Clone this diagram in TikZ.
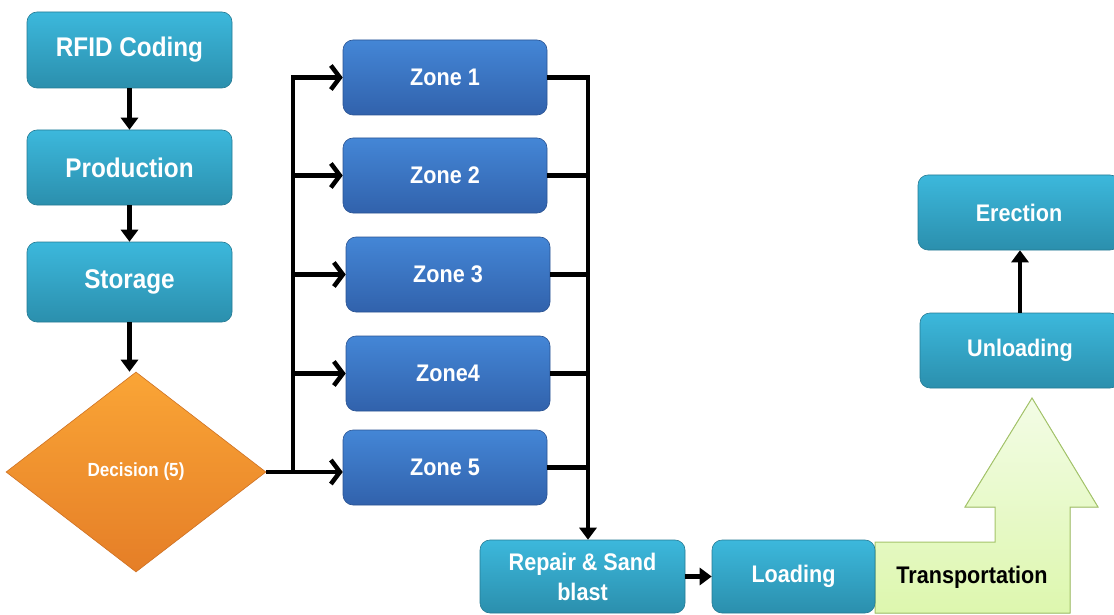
\documentclass[tikz,border=0pt]{standalone}
\usepackage{fontspec}
\setmainfont{Liberation Sans}[FakeStretch=0.9]
\usetikzlibrary{arrows.meta,shapes.geometric}

\definecolor{tealtop}{HTML}{3CB8DC}
\definecolor{tealbot}{HTML}{2B8FAD}
\definecolor{zonetop}{HTML}{4486D6}
\definecolor{zonebot}{HTML}{3162AC}
\definecolor{orangetop}{HTML}{FAA536}
\definecolor{orangebot}{HTML}{E57E27}
\definecolor{greentop}{HTML}{F3FCE6}
\definecolor{greenbot}{HTML}{DDF7AE}
\definecolor{greenline}{HTML}{A4C46A}

\begin{document}
\begin{tikzpicture}[x=1pt, y=-1pt,
  box/.style={rounded corners=10pt, inner sep=0pt, align=center, text=white,
    font=\bfseries\fontsize{24}{30}\selectfont,
    top color=tealtop, bottom color=tealbot, draw=tealbot!85!black, line width=0.6pt},
  bigbox/.style={box, font=\bfseries\fontsize{27}{30}\selectfont, minimum width=205pt},
  zonebox/.style={box, top color=zonetop, bottom color=zonebot, draw=zonebot!85!black,
    minimum width=204pt, minimum height=75pt},
  line/.style={line width=4.5pt},
  fillarr/.style={line, -{Triangle[length=12pt,width=17pt]}},
  openarr/.style={line, -{Straight Barb[length=9pt,width=24pt]}}
]
\clip (0,0) rectangle (1114,615);

% left column
\node[bigbox, minimum height=76pt] (rfid) at (129.5,50) {RFID Coding};
\node[bigbox, minimum height=75pt] (prod) at (129.5,167.5) {Production};
\node[bigbox, minimum height=80pt] (stor) at (129.5,282) {Storage};
\node[diamond, minimum width=260pt, minimum height=200pt, inner sep=0pt,
  top color=orangetop, bottom color=orangebot, draw=orangebot!90!black, line width=0.6pt,
  text=white, font=\bfseries\fontsize{19}{20}\selectfont] (dec) at (136,472) {Decision (5)};

% zones
\node[zonebox] (z1) at (445,77.5) {Zone 1};
\node[zonebox] (z2) at (445,175.5) {Zone 2};
\node[zonebox] (z3) at (448,274.5) {Zone 3};
\node[zonebox] (z4) at (448,373.5) {Zone4};
\node[zonebox] (z5) at (445,467.5) {Zone 5};

% bottom row and right column
\filldraw[top color=greentop, bottom color=greenbot, draw=greenline, line width=1pt]
  (875,542) -- (995,542) -- (995,507) -- (965,507) -- (1032,398) -- (1098,507)
  -- (1070,507) -- (1070,613) -- (875,613) -- cycle;
\node[font=\bfseries\fontsize{24}{30}\selectfont] (trans) at (972,577) {Transportation};

\node[box, minimum width=205pt, minimum height=73pt] (rep) at (582.5,576.5) {Repair \& Sand\\blast};
\node[box, minimum width=163pt, minimum height=73pt] (load) at (793.5,576.5) {Loading};
\node[box, minimum width=202pt, minimum height=75pt] (ere) at (1019,212.5) {Erection};
\node[box, minimum width=200pt, minimum height=75pt] (unl) at (1020,350.5) {Unloading};

\coordinate (split) at (293,0);
\coordinate (merge) at (588,0);

% connectors
\draw[fillarr] (rfid) -- (prod);
\draw[fillarr] (prod) -- (stor);
\draw[fillarr] (stor.south) -- (stor.south |- dec.north);

\draw[openarr] (split |- dec.east) -- (split |- z1) -- (z1.west);
\draw[openarr] (split |- z2) -- (z2.west);
\draw[openarr] (split |- z3) -- (z3.west);
\draw[openarr] (split |- z4) -- (z4.west);
\draw[openarr] (dec.east) -- (dec.east -| z5.west);

\draw[fillarr] (z1.east) -- (z1.east -| merge) -- (merge |- rep.north);
\draw[line] (z2.east) -- (z2.east -| merge);
\draw[line] (z3.east) -- (z3.east -| merge);
\draw[line] (z4.east) -- (z4.east -| merge);
\draw[line] (z5.east) -- (z5.east -| merge);

\draw[fillarr] (rep) -- (load);
\draw[fillarr] (unl.north) -- (unl.north |- ere.south);
\end{tikzpicture}
\end{document}
